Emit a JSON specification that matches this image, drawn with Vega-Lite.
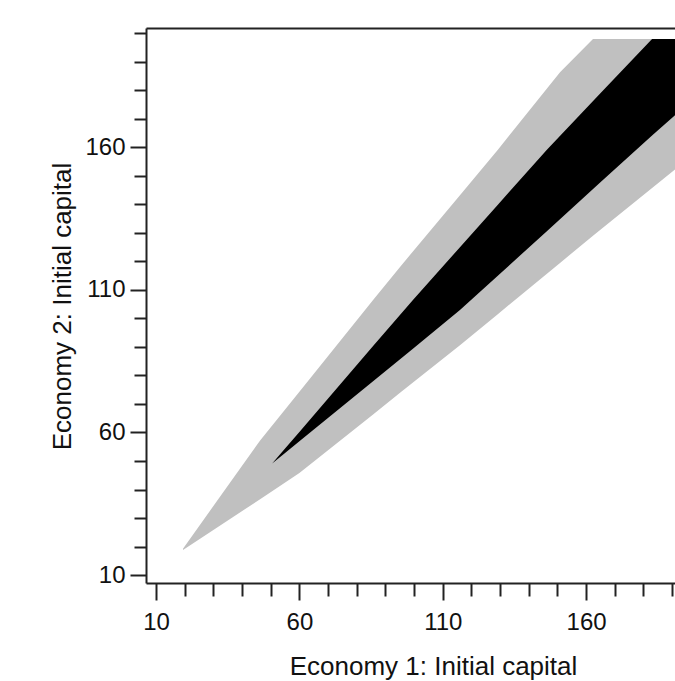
{
  "$schema": "https://vega.github.io/schema/vega-lite/v6.json",
  "width": 529,
  "height": 555,
  "autosize": "none",
  "padding": {"left": 146, "top": 28, "right": 0, "bottom": 98},
  "background": "white",
  "config": {
    "view": {"stroke": null},
    "axis": {
      "domainColor": "#222222",
      "domainWidth": 2,
      "tickColor": "#222222",
      "tickWidth": 2,
      "labelFont": "Liberation Sans",
      "labelFontSize": 24,
      "labelColor": "#111111",
      "titleFont": "Liberation Sans",
      "titleFontSize": 26,
      "titleFontWeight": "normal",
      "titleColor": "#111111",
      "grid": false
    }
  },
  "datasets": {
    "outer": [
      {"x": 19.4, "top": 19.2, "bottom": 18.8},
      {"x": 30, "top": 34.2, "bottom": 25.8},
      {"x": 46.3, "top": 57.2, "bottom": 36.6},
      {"x": 60, "top": 74.3, "bottom": 45.8},
      {"x": 85.7, "top": 106.5, "bottom": 66.3},
      {"x": 95.1, "top": 118.1, "bottom": 73.9},
      {"x": 116, "top": 143.2, "bottom": 90.6},
      {"x": 129.3, "top": 159.3, "bottom": 101.6},
      {"x": 150.9, "top": 186.4, "bottom": 119.5},
      {"x": 162.4, "top": 198, "bottom": 129.0},
      {"x": 191, "top": 198, "bottom": 152.3}
    ],
    "inner": [
      {"x": 50.5, "top": 49.1, "bottom": 49.1},
      {"x": 55, "top": 54.4, "bottom": 52.8},
      {"x": 60, "top": 60.2, "bottom": 56.9},
      {"x": 85.7, "top": 90.3, "bottom": 78.0},
      {"x": 99.6, "top": 106.5, "bottom": 89.4},
      {"x": 116, "top": 125.0, "bottom": 103.0},
      {"x": 129.3, "top": 140.0, "bottom": 115.1},
      {"x": 146.4, "top": 159.3, "bottom": 130.7},
      {"x": 164.9, "top": 178.9, "bottom": 147.7},
      {"x": 183, "top": 198, "bottom": 164.2},
      {"x": 191, "top": 198, "bottom": 171.3}
    ]
  },
  "encoding": {
    "y": {
      "field": "top", "type": "quantitative",
      "scale": {"domain": [7.2, 201.9], "nice": false, "zero": false},
      "axis": {
        "orient": "left",
        "title": "Economy 2: Initial capital",
        "values": [10, 20, 30, 40, 50, 60, 70, 80, 90, 100, 110, 120, 130, 140, 150, 160, 170, 180, 190, 200],
        "labelExpr": "(datum.value - 10) % 50 === 0 ? datum.label : ''",
        "tickSize": {"condition": {"test": "(datum.value - 10) % 50 === 0", "value": 16}, "value": 12},
        "labelPadding": 5,
        "labelFlush": false,
        "labelOverlap": false,
        "titleX": -76,
        "titleY": 278,
        "titleAngle": -90,
        "titleAlign": "center",
        "titleBaseline": "alphabetic"
      }
    },
    "y2": {"field": "bottom"}
  },
  "layer": [
    {
      "data": {"name": "outer"},
      "mark": {"type": "area", "color": "#c0c0c0", "clip": true},
      "encoding": {
        "x": {
          "field": "x", "type": "quantitative",
          "scale": {"domain": [6.5, 191], "nice": false, "zero": false},
          "axis": {
            "orient": "bottom",
            "title": "Economy 1: Initial capital",
            "values": [10, 20, 30, 40, 50, 60, 70, 80, 90, 100, 110, 120, 130, 140, 150, 160, 170, 180, 190],
            "labelExpr": "(datum.value - 10) % 50 === 0 ? datum.label : ''",
            "tickSize": {"condition": {"test": "(datum.value - 10) % 50 === 0", "value": 17}, "value": 13},
            "labelPadding": 10,
            "labelFlush": false,
            "labelOverlap": false,
            "titleX": 287,
            "titleY": 91,
            "titleAnchor": null,
            "titleAlign": "center",
            "titleBaseline": "alphabetic"
          }
        }
      }
    },
    {
      "data": {"name": "inner"},
      "mark": {"type": "area", "color": "#000000", "clip": true},
      "encoding": {
        "x": {
          "field": "x", "type": "quantitative",
          "axis": {"orient": "top", "title": null, "labels": false, "ticks": false, "domain": true}
        }
      }
    }
  ],
  "resolve": {"axis": {"x": "independent"}}
}
